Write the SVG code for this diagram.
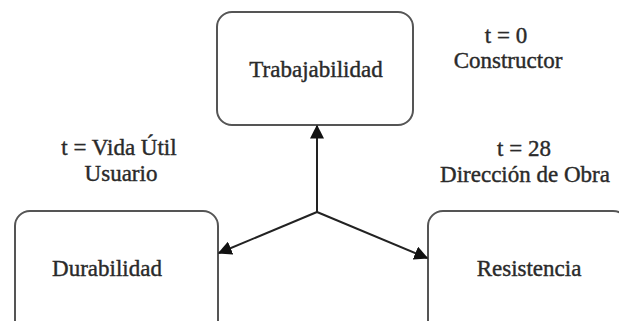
<svg xmlns="http://www.w3.org/2000/svg" width="619" height="321" viewBox="0 0 619 321">
<style>
.box{fill:#fff;stroke:#555;stroke-width:2}
.t{font-family:"Liberation Serif","Times New Roman",serif;font-size:23px;fill:#2a2a2a;stroke:#2a2a2a;stroke-width:0.4;text-anchor:middle}
.c{stroke:#222;stroke-width:2;fill:none}
</style>
<defs>
<marker id="ah" viewBox="0 0 10 10" refX="9" refY="5" markerWidth="7" markerHeight="7" markerUnits="strokeWidth" orient="auto">
<path d="M0,0 L10,5 L0,10 z" fill="#111"/>
</marker>
</defs>
<rect width="619" height="321" fill="#fff"/>
<g id="trabajabilidad">
<rect class="box" x="217" y="12" width="196" height="113" rx="15"/>
<text class="t" x="316" y="77">Trabajabilidad</text>
</g>
<g id="durabilidad">
<rect class="box" x="15" y="211" width="203" height="130" rx="15"/>
<text class="t" x="107" y="276">Durabilidad</text>
</g>
<g id="resistencia">
<rect class="box" x="428" y="211" width="200" height="130" rx="15"/>
<text class="t" x="529" y="276">Resistencia</text>
</g>
<g id="labels">
<text class="t" x="119" y="155">t = Vida Útil</text>
<text class="t" x="121" y="181">Usuario</text>
<text class="t" x="506" y="43">t = 0</text>
<text class="t" x="508" y="68">Constructor</text>
<text class="t" x="524" y="156">t = 28</text>
<text class="t" x="525" y="182">Dirección de Obra</text>
</g>
<g id="connectors">
<line class="c" x1="317" y1="212" x2="317" y2="126" marker-end="url(#ah)"/>
<line class="c" x1="317" y1="212" x2="219" y2="253" marker-end="url(#ah)"/>
<line class="c" x1="317" y1="212" x2="427" y2="258" marker-end="url(#ah)"/>
</g>
</svg>
